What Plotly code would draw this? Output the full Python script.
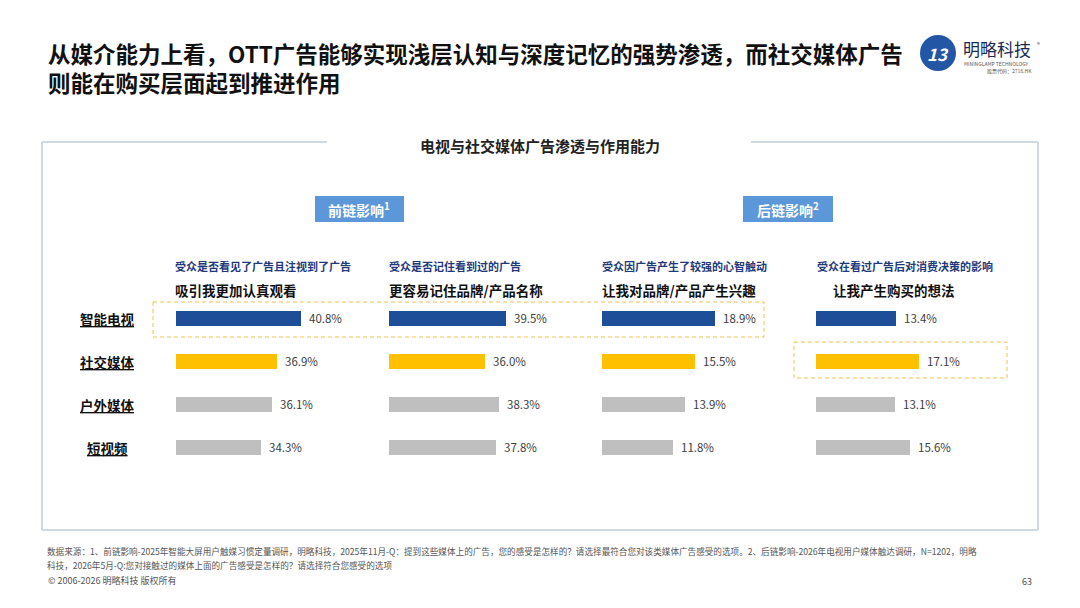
import plotly.graph_objects as go

W, H = 1080, 608
FONT = "Noto Sans CJK SC"

# data
media = ["智能电视", "社交媒体", "户外媒体", "短视频"]
questions = [
    "受众是否看见了广告且注视到了广告",
    "受众是否记住看到过的广告",
    "受众因广告产生了较强的心智触动",
    "受众在看过广告后对消费决策的影响",
]
effects = [
    "吸引我更加认真观看",
    "更容易记住品牌/产品名称",
    "让我对品牌/产品产生兴趣",
    "让我产生购买的想法",
]
attention = [40.8, 36.9, 36.1, 34.3]
memory = [39.5, 36.0, 38.3, 37.8]
interest = [18.9, 15.5, 13.9, 11.8]
purchase = [13.4, 17.1, 13.1, 15.6]
series = [attention, memory, interest, purchase]

bar_colors = ["#1f4e99", "#ffc000", "#bfbfbf", "#bfbfbf"]


def px(x):
    return x / W


def py(y):
    return 1 - y / H


# column layout: left/right pixel edge, axis start value, pixels per percent
cols = [
    (176, 382, 20.3, 6.1),
    (389, 595, 20.3, 6.1),
    (602, 808, 0.0, 6.0),
    (816, 1030, 0.0, 6.0),
]
head_x = [173, 387, 600, 815]
eff_x = [173, 387, 600, 831]

fig = go.Figure()
annotations = []
layout_axes = {}

for i, (vals, (l, r, x0, k)) in enumerate(zip(series, cols)):
    xa = "x" if i == 0 else "x%d" % (i + 1)
    fig.add_trace(go.Bar(
        x=vals, y=media, orientation="h", xaxis=xa, yaxis="y",
        marker=dict(color=bar_colors, line=dict(width=0)),
        width=0.35, hoverinfo="skip", showlegend=False,
    ))
    key = "xaxis" if i == 0 else "xaxis%d" % (i + 1)
    layout_axes[key] = dict(
        domain=[px(l), px(r)], range=[x0, x0 + (r - l) / k],
        visible=False, fixedrange=True, anchor="y",
    )
    for m, v in zip(media, vals):
        annotations.append(dict(
            x=v, y=m, xref=xa, yref="y", text="%.1f%%" % v,
            xanchor="left", yanchor="middle", xshift=6, showarrow=False,
            font=dict(size=11.5, color="#404040"),
        ))
    annotations.append(dict(
        x=px(head_x[i]), y=py(266), xref="paper", yref="paper",
        text="<b>%s</b>" % questions[i], xanchor="left", yanchor="middle",
        showarrow=False, font=dict(size=11, color="#1f3a7a"),
    ))
    annotations.append(dict(
        x=px(eff_x[i]), y=py(290), xref="paper", yref="paper",
        text="<b>%s</b>" % effects[i], xanchor="left", yanchor="middle",
        showarrow=False, font=dict(size=13.5, color="#111111"),
    ))

# row labels
for m, y in zip(media, [319, 362, 405, 448]):
    annotations.append(dict(
        x=px(107), y=py(y), xref="paper", yref="paper",
        text="<b><u>%s</u></b>" % m, xanchor="center", yanchor="middle",
        showarrow=False, font=dict(size=13.5, color="#111111"),
    ))


def note(x, y, text, size, color, anchor="left", bold=False):
    annotations.append(dict(
        x=px(x), y=py(y), xref="paper", yref="paper",
        text="<b>%s</b>" % text if bold else text,
        xanchor=anchor, yanchor="middle", showarrow=False, align="left",
        font=dict(size=size, color=color),
    ))


# title
note(46, 67, "从媒介能力上看，OTT广告能够实现浅层认知与深度记忆的强势渗透，而社交媒体广告"
     "<br>则能在购买层面起到推进作用", 22.5, "#111111", bold=True)

# logo text
note(938, 54, "<i>13</i>", 17, "white", anchor="center", bold=True)
note(961, 49, "明略科技", 17, "#1c2a52")
note(1035, 44, "®", 6, "#555555")
note(962, 63, "MININGLAMP TECHNOLOGY", 5, "#555555")
note(985, 71, "股票代码：2718.HK", 5, "#555555")

# panel heading and section tags
note(540, 145, "电视与社交媒体广告渗透与作用能力", 15, "#222222", anchor="center", bold=True)
note(359, 209, "前链影响<sup>1</sup>", 14, "white", anchor="center", bold=True)
note(788, 209, "后链影响<sup>2</sup>", 14, "white", anchor="center", bold=True)

# footer
note(45, 551, "数据来源：1、前链影响-2025年智能大屏用户触媒习惯定量调研，明略科技，2025年11月-Q：提到这些媒体上的广告，您的感受是怎样的？请选择最符合您对该类媒体广告感受的选项。2、后链影响-2026年电视用户媒体触达调研，N=1202，明略", 8.6, "#555555")
note(45, 565, "科技，2026年5月-Q:您对接触过的媒体上面的广告感受是怎样的？请选择符合您感受的选项", 8.6, "#555555")
note(46, 580, "© 2006-2026 明略科技 版权所有", 9, "#555555")
note(1034, 581, "63", 9, "#555555", anchor="right")

border = "#cfd9e4"


def seg(x0, y0, x1, y1):
    return dict(type="line", xref="paper", yref="paper",
                x0=px(x0), x1=px(x1), y0=py(y0), y1=py(y1),
                line=dict(color=border, width=2))


def box(x0, y0, x1, y1, **kw):
    d = dict(type="rect", xref="paper", yref="paper",
             x0=px(x0), x1=px(x1), y0=py(y0), y1=py(y1))
    d.update(kw)
    return d


dash = dict(color="#f0c050", width=1, dash="4px,3px")
shapes = [
    # panel frame with gap for heading
    seg(42, 142, 327, 142),
    seg(751, 142, 1038, 142),
    seg(42, 142, 42, 530),
    seg(1038, 142, 1038, 530),
    seg(42, 530, 1038, 530),
    # section tags
    box(315, 196, 404, 222, fillcolor="#5b97d9", line=dict(width=0), layer="below"),
    box(743, 196, 833, 222, fillcolor="#5b97d9", line=dict(width=0), layer="below"),
    # highlight boxes
    box(153, 302, 764, 337, line=dash),
    box(794, 342, 1007, 378, line=dash),
    # logo mark
    dict(type="circle", xref="paper", yref="paper", x0=px(920), x1=px(956),
         y0=py(35), y1=py(71), fillcolor="#2456a6", line=dict(width=0), layer="below"),
]

fig.update_layout(
    width=W, height=H,
    margin=dict(l=0, r=0, t=0, b=0),
    paper_bgcolor="white", plot_bgcolor="rgba(0,0,0,0)",
    font=dict(family=FONT),
    bargap=0,
    yaxis=dict(
        domain=[py(468.5), py(296.5)], range=[3.5, -0.5], type="category",
        visible=False, fixedrange=True, anchor="x",
    ),
    annotations=annotations,
    shapes=shapes,
    **layout_axes,
)

fig.write_html("out.html", config={"displayModeBar": False},
               post_script="document.body.style.margin='0';")
